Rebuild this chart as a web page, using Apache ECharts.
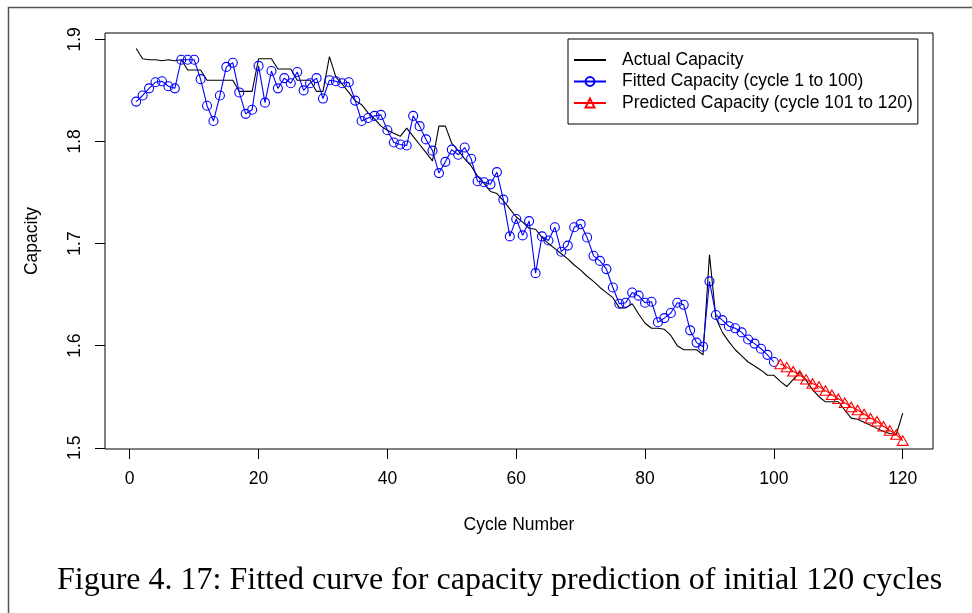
<!DOCTYPE html>
<html>
<head>
<meta charset="utf-8">
<script src="https://cdn.jsdelivr.net/npm/echarts@6/dist/echarts.min.js"></script>
<style>
  html, body { margin: 0; padding: 0; background: #fff; }
  #chart { width: 972px; height: 613px; }
</style>
</head>
<body>
<div id="chart"></div>
<script>
// Measured capacity, cycles 1-120
const actualCapacity = [
  1.891, 1.881, 1.880, 1.880, 1.879, 1.880, 1.879, 1.880, 1.870, 1.870,
  1.870, 1.860, 1.860, 1.860, 1.860, 1.860, 1.849, 1.849, 1.849, 1.881,
  1.881, 1.881, 1.871, 1.871, 1.871, 1.860, 1.860, 1.860, 1.849, 1.849,
  1.883, 1.863, 1.856, 1.848, 1.840, 1.836, 1.828, 1.822, 1.815, 1.811,
  1.808, 1.805, 1.813, 1.805, 1.797, 1.789, 1.781, 1.815, 1.815, 1.798,
  1.791, 1.783, 1.776, 1.766, 1.759, 1.751, 1.749, 1.742, 1.734, 1.726,
  1.721, 1.715, 1.714, 1.706, 1.700, 1.695, 1.690, 1.685, 1.679, 1.674,
  1.668, 1.663, 1.657, 1.652, 1.647, 1.637, 1.637, 1.641, 1.631, 1.622,
  1.617, 1.617, 1.616, 1.610, 1.600, 1.596, 1.596, 1.596, 1.591, 1.689,
  1.627, 1.613, 1.604, 1.596, 1.590, 1.584, 1.580, 1.576, 1.571, 1.571,
  1.565, 1.560, 1.567, 1.574, 1.566, 1.557, 1.550, 1.545, 1.545, 1.545,
  1.537, 1.529, 1.528, 1.525, 1.522, 1.519, 1.516, 1.514, 1.513, 1.534
];

// Model fit, cycles 1-100
const fittedCapacity = [
  1.839, 1.845, 1.852, 1.858, 1.859, 1.854, 1.852, 1.880, 1.880, 1.880,
  1.861, 1.835, 1.820, 1.845, 1.873, 1.877, 1.848, 1.827, 1.831, 1.874,
  1.838, 1.869, 1.852, 1.862, 1.857, 1.868, 1.850, 1.857, 1.862, 1.842,
  1.860, 1.859, 1.857, 1.858, 1.840, 1.820, 1.823, 1.825, 1.826, 1.811,
  1.799, 1.797, 1.796, 1.825, 1.815, 1.802, 1.791, 1.769, 1.780, 1.792,
  1.787, 1.794, 1.783, 1.761, 1.760, 1.758, 1.770, 1.743, 1.707, 1.724,
  1.708, 1.722, 1.671, 1.707, 1.703, 1.716, 1.692, 1.698, 1.716, 1.719,
  1.706, 1.688, 1.683, 1.675, 1.657, 1.641, 1.642, 1.652, 1.649, 1.642,
  1.643, 1.623, 1.627, 1.632, 1.642, 1.640, 1.615, 1.603, 1.599, 1.663,
  1.630, 1.625, 1.619, 1.617, 1.613, 1.606, 1.602, 1.597, 1.591, 1.584
];

// Model prediction, cycles 101-120
const predictedCapacity = [
  1.582, 1.579, 1.575, 1.571, 1.567, 1.563, 1.560, 1.556, 1.552, 1.548,
  1.544, 1.540, 1.537, 1.533, 1.529, 1.526, 1.521, 1.517, 1.513, 1.507
];

const predictedStartCycle = 101;

const xTicks = [0, 20, 40, 60, 80, 100, 120];
const yTicks = [1.5, 1.6, 1.7, 1.8, 1.9];

const seriesNames = [
  'Actual Capacity',
  'Fitted Capacity (cycle 1 to 100)',
  'Predicted Capacity (cycle 101 to 120)'
];

const captionText = 'Figure 4. 17: Fitted curve for capacity prediction of initial 120 cycles';

function toPairs(values, firstCycle) {
  return values.map((v, i) => [firstCycle + i, v]);
}

const FONT = '"Liberation Sans", Arial, Helvetica, sans-serif';
const FS = 17.5;

const chart = echarts.init(document.getElementById('chart'), null, { renderer: 'canvas' });

chart.setOption({
  backgroundColor: '#ffffff',
  animation: false,
  textStyle: { fontFamily: FONT },
  grid: {
    left: 105, top: 33, right: 39, bottom: 164,
    show: true, borderColor: '#000', borderWidth: 1, backgroundColor: 'transparent'
  },
  legend: {
    orient: 'vertical',
    left: 568, top: 39,
    itemWidth: 32, itemHeight: 11, itemGap: 1.5,
    padding: [11, 5, 11, 5],
    borderColor: '#000', borderWidth: 1,
    backgroundColor: '#fff',
    data: [
      { name: seriesNames[0], itemStyle: { opacity: 0 } },
      { name: seriesNames[1] },
      { name: seriesNames[2] }
    ],
    textStyle: { fontFamily: FONT, fontSize: FS, color: '#000', lineHeight: 20, padding: [0, 0, 0, 11] }
  },
  xAxis: {
    type: 'value',
    min: -3.84, max: 124.7,
    name: 'Cycle Number',
    nameLocation: 'middle',
    nameGap: 67,
    nameTextStyle: { fontFamily: FONT, fontSize: FS, color: '#000' },
    axisLine: { show: false, onZero: false },
    splitLine: { show: false },
    axisTick: { show: true, inside: false, length: 10, customValues: xTicks, lineStyle: { color: '#000', width: 1 } },
    axisLabel: { customValues: xTicks, margin: 21, fontFamily: FONT, fontSize: FS, color: '#000',
                 formatter: v => String(v) }
  },
  yAxis: {
    type: 'value',
    min: 1.4988, max: 1.9062,
    name: 'Capacity',
    nameLocation: 'middle',
    nameGap: 64,
    nameTextStyle: { fontFamily: FONT, fontSize: FS, color: '#000' },
    axisLine: { show: false, onZero: false },
    splitLine: { show: false },
    axisTick: { show: true, inside: false, length: 10, customValues: yTicks, lineStyle: { color: '#000', width: 1 } },
    axisLabel: { customValues: yTicks, rotate: 90, margin: 21, fontFamily: FONT, fontSize: FS, color: '#000',
                 formatter: v => v.toFixed(1) }
  },
  series: [
    {
      name: seriesNames[0],
      type: 'line',
      data: toPairs(actualCapacity, 1),
      symbol: 'none',
      color: '#000',
      lineStyle: { color: '#000', width: 1.1 },
      z: 2
    },
    {
      name: seriesNames[1],
      type: 'line',
      data: toPairs(fittedCapacity, 1),
      symbol: 'circle',
      symbolSize: 9,
      color: '#0000ff',
      lineStyle: { color: '#0000ff', width: 1.1 },
      itemStyle: { color: 'rgba(0,0,0,0)', borderColor: '#0000ff', borderWidth: 1.1 },
      z: 3
    },
    {
      name: seriesNames[2],
      type: 'line',
      data: toPairs(predictedCapacity, predictedStartCycle),
      symbol: 'triangle',
      symbolSize: [11, 9.5],
      color: '#ff0000',
      lineStyle: { color: '#ff0000', width: 1.1 },
      itemStyle: { color: 'rgba(0,0,0,0)', borderColor: '#ff0000', borderWidth: 1.1 },
      z: 4
    }
  ],
  graphic: [
    {
      type: 'polyline',
      shape: { points: [[8.5, 613], [8.5, 7.5], [972, 7.5]] },
      style: { stroke: '#555', lineWidth: 1.5, fill: null },
      silent: true
    },
    {
      type: 'text',
      left: 57,
      top: 565,
      style: {
        text: captionText,
        font: '32px "Liberation Serif", "Times New Roman", serif',
        fill: '#000'
      },
      silent: true
    }
  ]
});
</script>
</body>
</html>
